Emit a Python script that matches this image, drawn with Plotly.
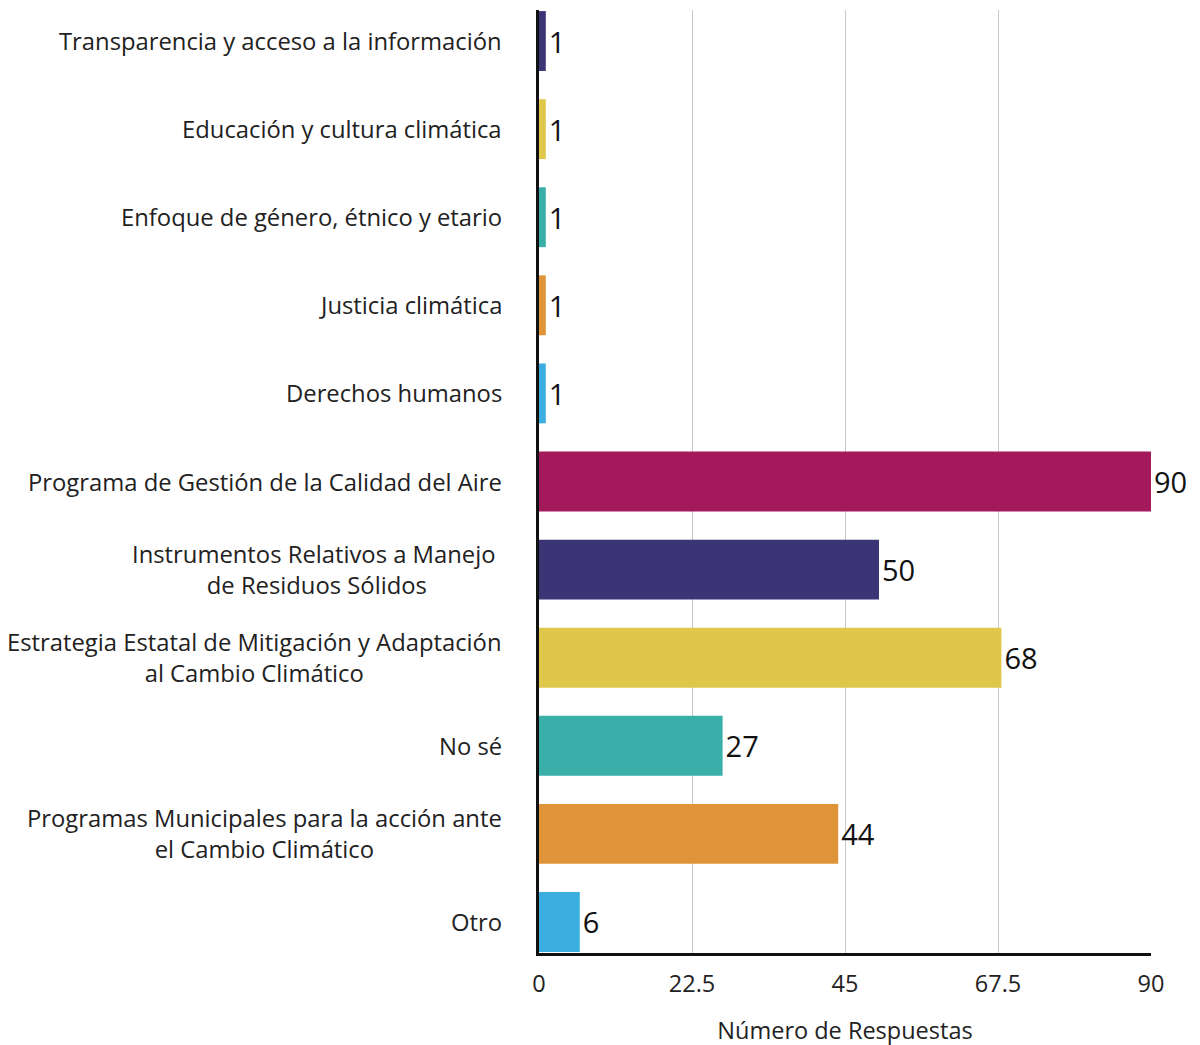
import plotly.graph_objects as go

categories = [
    "Transparencia y acceso a la información",
    "Educación y cultura climática",
    "Enfoque de género, étnico y etario",
    "Justicia climática",
    "Derechos humanos",
    "Programa de Gestión de la Calidad del Aire",
    "Instrumentos Relativos a Manejo <br>de Residuos Sólidos",
    "Estrategia Estatal de Mitigación y Adaptación<br>al Cambio Climático",
    "No sé",
    "Programas Municipales para la acción ante<br>el Cambio Climático",
    "Otro",
]
values = [1, 1, 1, 1, 1, 90, 50, 68, 27, 44, 6]
colors = ["#3B3576", "#DEC74A", "#3AAFA9", "#E0943A", "#3DAEE0", "#A3195B",
          "#3B3576", "#DEC74A", "#3AAFA9", "#E0943A", "#3DAEE0"]
tick_vals = [0, 22.5, 45, 67.5, 90]
tick_text = ["0", "22.5", "45", "67.5", "90"]

FONT = "'Open Sans', 'Noto Sans', sans-serif"
ypos = list(range(len(categories)))

fig = go.Figure()
fig.add_trace(go.Bar(
    x=values, y=ypos, orientation="h",
    marker=dict(color=colors, line=dict(width=0)),
    width=0.68,
    text=[str(v) for v in values], textposition="outside",
    textfont=dict(size=29, color="#111111", family=FONT),
    constraintext="none", cliponaxis=False,
    hoverinfo="skip",
))

for i, c in enumerate(categories):
    fig.add_annotation(
        x=0, xref="paper", y=ypos[i], yref="y",
        text=c, showarrow=False, xanchor="right", yanchor="middle",
        align="center", xshift=-35,
        font=dict(size=23.8, color="#222222", family=FONT),
    )

fig.update_layout(
    width=1200, height=1045,
    margin=dict(l=531, r=57, t=2, b=100),
    plot_bgcolor="white", paper_bgcolor="white",
    showlegend=False,
    font=dict(family=FONT, color="#222222"),
    xaxis=dict(
        range=[0, 90], tickvals=tick_vals, ticktext=tick_text,
        showgrid=True, gridcolor="#c8c8c8", gridwidth=1,
        zeroline=False, showline=True, linecolor="#111111", linewidth=3,
        tickfont=dict(size=23.5, color="#222222", family=FONT),
        ticks="", ticklabelstandoff=8,
        title=dict(text="Número de Respuestas", standoff=25,
                   font=dict(size=23.5, color="#222222", family=FONT)),
        fixedrange=True,
    ),
    yaxis=dict(
        range=[10.352, -0.352], showticklabels=False, ticks="",
        showgrid=False, zeroline=False, showline=True,
        linecolor="#111111", linewidth=3, fixedrange=True,
    ),
)

fig.write_html("out.html")
